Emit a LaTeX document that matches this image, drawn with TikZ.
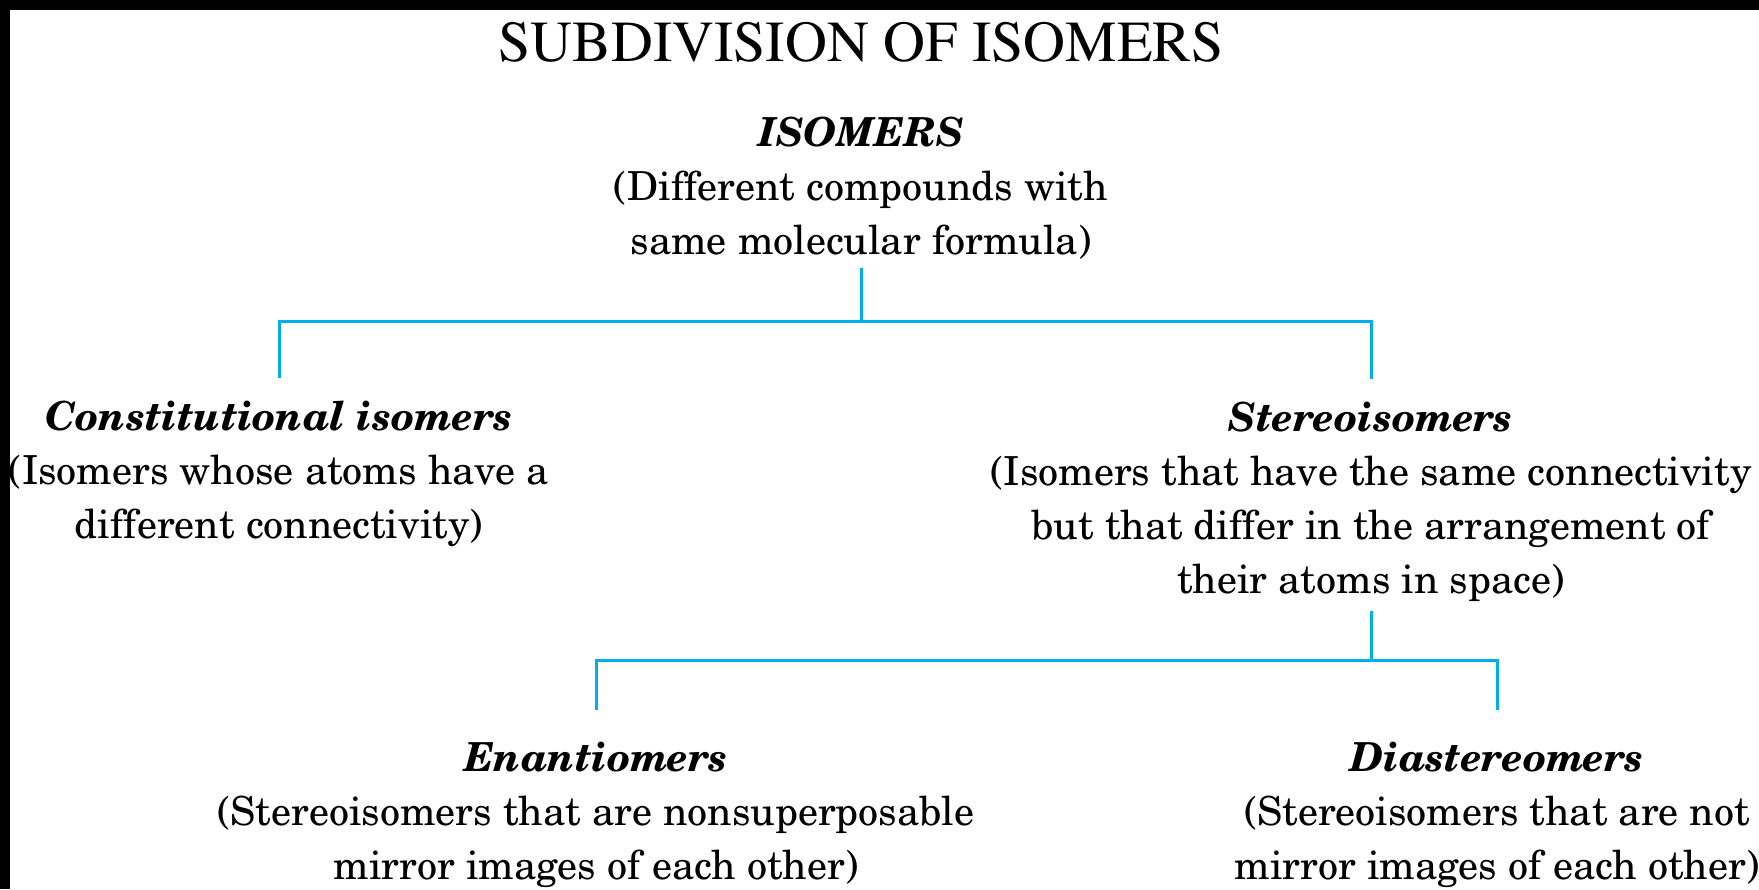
\documentclass[tikz,border=0pt]{standalone}
\usepackage[T1]{fontenc}
\usepackage{newcent}
\usetikzlibrary{positioning}
\definecolor{isocyan}{RGB}{0,174,239}
\tikzset{%
	group/.style={align=center, inner sep=2pt, anchor=base, font=\fontsize{40}{54}\selectfont},
	heading/.style={anchor=base, inner sep=0pt, font=\fontfamily{ptm}\fontsize{58}{60}\selectfont},
	connector/.style={draw=isocyan, line width=3pt, shorten <=7pt},
	branch/.style={connector, shorten >=20pt},
	subbranch/.style={connector, shorten >=29pt}
}

\begin{document}
\begin{tikzpicture}[x=1pt, y=-1pt]
	\useasboundingbox (0,0) rectangle (1759,889);
	\fill[black] (0,0) rectangle (1759,10);
	\fill[black] (0,0) rectangle (10,889);

	\node[heading] (title) at (861,61) {SUBDIVISION OF ISOMERS};
	\node[group] (iso) at (861,254) {\textbf{\textit{ISOMERS}}\\(Different compounds with\\same molecular formula)};
	\node[group] (con) at (279,538) {\textbf{\textit{Constitutional isomers}}\\(Isomers whose atoms have a\\different connectivity)};
	\node[group] (ste) at (1371,593) {\textbf{\textit{Stereoisomers}}\\(Isomers that have the same connectivity\\but that differ in the arrangement of\\their atoms in space)};
	\node[group] (ena) at (596,879) {\textbf{\textit{Enantiomers}}\\(Stereoisomers that are nonsuperposable\\mirror images of each other)};
	\node[group] (dia) at (1497,879) {\textbf{\textit{Diastereomers}}\\(Stereoisomers that are not\\mirror images of each other)};

	\draw[branch] (iso.south) -- ++(0,60) -| (con.north);
	\draw[branch] (iso.south) -- ++(0,60) -| (ste.north);
	\draw[subbranch] (ste.south) -- ++(0,57) -| (ena.north);
	\draw[subbranch] (ste.south) -- ++(0,57) -| (dia.north);
\end{tikzpicture}
\end{document}
